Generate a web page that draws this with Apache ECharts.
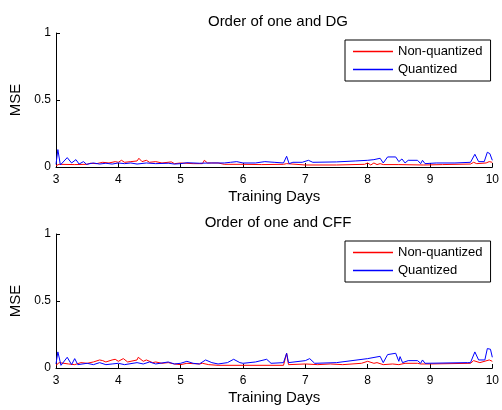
<!DOCTYPE html>
<html>
<head>
<meta charset="utf-8">
<script src="https://cdn.jsdelivr.net/npm/echarts@6/dist/echarts.min.js"></script>
<style>
  html, body { margin: 0; background: #fff; }
  #chart { width: 502px; height: 410px; }
</style>
</head>
<body>
<div id="chart"></div>
<script>
// [training day, MSE]
const dgNonQuantized = [
  [3.0,0.01],[3.05,0.02],[3.3,0.018],[3.5,0.02],[3.55,0.028],[3.65,0.025],[3.75,0.035],[3.85,0.03],
  [3.95,0.04],[4.0,0.035],[4.05,0.05],[4.1,0.035],[4.2,0.04],[4.3,0.045],[4.33,0.065],[4.38,0.04],
  [4.45,0.05],[4.5,0.035],[4.6,0.04],[4.7,0.03],[4.85,0.038],[4.9,0.025],[5.0,0.03],[5.2,0.025],
  [5.35,0.025],[5.38,0.05],[5.43,0.03],[5.6,0.03],[5.7,0.02],[6.0,0.02],[6.3,0.018],[6.65,0.02],
  [6.7,0.025],[6.73,0.018],[7.0,0.015],[7.5,0.015],[7.95,0.02],[8.0,0.03],[8.05,0.015],[8.1,0.03],
  [8.15,0.018],[8.2,0.025],[8.25,0.018],[8.5,0.018],[8.9,0.015],[9.2,0.018],[9.65,0.022],[9.7,0.035],
  [9.75,0.025],[9.9,0.03],[9.95,0.04],[10,0.035]
];
const dgQuantized = [
  [3.0,0.02],[3.03,0.13],[3.07,0.015],[3.18,0.07],[3.25,0.03],[3.32,0.055],[3.37,0.022],[3.44,0.04],
  [3.49,0.02],[3.6,0.03],[3.7,0.022],[3.8,0.028],[3.9,0.022],[4.0,0.03],[4.1,0.025],[4.2,0.03],
  [4.3,0.022],[4.45,0.03],[4.6,0.025],[4.8,0.028],[4.9,0.022],[5.0,0.025],[5.1,0.032],[5.3,0.028],
  [5.5,0.03],[5.7,0.03],[5.8,0.035],[5.9,0.04],[6.0,0.03],[6.2,0.03],[6.35,0.04],[6.5,0.035],
  [6.65,0.03],[6.7,0.08],[6.74,0.025],[6.8,0.035],[6.95,0.035],[7.05,0.05],[7.12,0.035],[7.5,0.038],
  [7.8,0.045],[8.0,0.05],[8.1,0.055],[8.2,0.065],[8.25,0.03],[8.32,0.075],[8.45,0.075],[8.5,0.04],
  [8.55,0.06],[8.6,0.03],[8.65,0.05],[8.8,0.05],[8.85,0.025],[8.88,0.05],[8.92,0.025],[9.1,0.03],
  [9.4,0.03],[9.65,0.035],[9.72,0.095],[9.78,0.04],[9.87,0.04],[9.92,0.11],[9.96,0.1],[10,0.05]
];
const cffNonQuantized = [
  [3.0,0.02],[3.05,0.04],[3.2,0.03],[3.3,0.025],[3.4,0.04],[3.5,0.035],[3.6,0.045],[3.7,0.06],
  [3.75,0.055],[3.8,0.045],[3.9,0.06],[3.95,0.065],[4.0,0.05],[4.08,0.07],[4.15,0.045],[4.3,0.06],
  [4.32,0.08],[4.4,0.05],[4.45,0.06],[4.55,0.04],[4.6,0.045],[4.7,0.035],[4.8,0.04],[4.9,0.03],
  [5.0,0.025],[5.1,0.035],[5.3,0.03],[5.35,0.035],[5.45,0.025],[5.6,0.02],[6.0,0.02],[6.65,0.02],
  [6.7,0.11],[6.73,0.025],[7.0,0.03],[7.2,0.025],[7.4,0.03],[7.6,0.025],[7.9,0.035],[8.0,0.05],
  [8.1,0.035],[8.15,0.04],[8.25,0.025],[8.4,0.03],[8.5,0.025],[8.6,0.035],[8.8,0.035],[8.85,0.03],
  [9.0,0.03],[9.65,0.035],[9.7,0.055],[9.8,0.04],[9.95,0.06],[10,0.05]
];
const cffQuantized = [
  [3.0,0.03],[3.03,0.12],[3.08,0.02],[3.18,0.08],[3.25,0.025],[3.3,0.07],[3.35,0.025],[3.5,0.035],
  [3.6,0.025],[3.7,0.04],[3.8,0.025],[3.9,0.03],[4.0,0.035],[4.1,0.025],[4.3,0.04],[4.4,0.03],
  [4.5,0.045],[4.6,0.03],[4.8,0.045],[4.9,0.03],[5.0,0.035],[5.1,0.05],[5.2,0.035],[5.3,0.03],
  [5.4,0.06],[5.5,0.04],[5.6,0.03],[5.75,0.04],[5.85,0.065],[5.95,0.04],[6.0,0.035],[6.2,0.045],
  [6.38,0.065],[6.45,0.035],[6.65,0.04],[6.7,0.11],[6.73,0.04],[7.0,0.055],[7.07,0.07],[7.15,0.035],
  [7.5,0.04],[8.0,0.07],[8.2,0.087],[8.25,0.04],[8.32,0.1],[8.45,0.11],[8.5,0.05],[8.52,0.085],
  [8.56,0.04],[8.65,0.055],[8.8,0.055],[8.85,0.035],[8.88,0.06],[8.92,0.035],[9.6,0.04],[9.65,0.04],
  [9.72,0.12],[9.78,0.06],[9.88,0.06],[9.92,0.145],[9.97,0.14],[10,0.08]
];
const panelTitles = ['Order of one and DG', 'Order of one and CFF'];
const seriesNames = ['Non-quantized', 'Quantized'];

const font = 'Arial, "Liberation Sans", sans-serif';
const chart = echarts.init(document.getElementById('chart'));

const gridTops = [33, 234];

const xAxis = gridTops.map((t, i) => ({
  type: 'value', gridIndex: i, min: 3, max: 10, interval: 1,
  name: 'Training Days', nameLocation: 'middle', nameGap: 22,
  nameTextStyle: { fontFamily: font, fontSize: 15, color: '#000' },
  axisLine: { lineStyle: { color: '#000', width: 1 } },
  axisTick: { inside: true, length: 4, lineStyle: { color: '#000' } },
  axisLabel: { fontFamily: font, fontSize: 12, color: '#000', margin: 7 },
  splitLine: { show: false }
}));

const yAxis = gridTops.map((t, i) => ({
  type: 'value', gridIndex: i, min: 0, max: 1, interval: 0.5,
  name: 'MSE', nameLocation: 'middle', nameGap: 31,
  nameTextStyle: { fontFamily: font, fontSize: 15, color: '#000' },
  axisLine: { show: true, lineStyle: { color: '#000', width: 1 } },
  axisTick: { show: true, inside: true, length: 4, lineStyle: { color: '#000' } },
  axisLabel: { fontFamily: font, fontSize: 12, color: '#000', margin: 5 },
  splitLine: { show: false }
}));

const line = (name, data, color, idx) => ({
  name, type: 'line', data, xAxisIndex: idx, yAxisIndex: idx,
  showSymbol: false, symbol: 'none', animation: false,
  lineStyle: { color, width: 1 }, itemStyle: { color }
});

chart.setOption({
  backgroundColor: '#fff',
  animation: false,
  title: panelTitles.map((text, i) => ({
    text, left: 273, top: gridTops[i] - 24, textAlign: 'center',
    textStyle: { fontFamily: font, fontSize: 15, fontWeight: 'normal', color: '#000' }
  })),
  legend: gridTops.map((t, i) => ({
    data: seriesNames, orient: 'vertical', left: 345, top: t + 7,
    icon: 'rect', itemWidth: 40, itemHeight: 1.5, itemGap: 5,
    padding: [5, 8, 5, 8], borderColor: '#000', borderWidth: 1,
    textStyle: { fontFamily: font, fontSize: 13, color: '#000' },
    selectedMode: false
  })),
  grid: gridTops.map(t => ({ left: 56, right: 7, top: t, height: 134 })),
  xAxis, yAxis,
  series: [
    line(seriesNames[0], dgNonQuantized, '#ff0000', 0),
    line(seriesNames[1], dgQuantized, '#0000ff', 0),
    line(seriesNames[0], cffNonQuantized, '#ff0000', 1),
    line(seriesNames[1], cffQuantized, '#0000ff', 1)
  ]
});
</script>
</body>
</html>
